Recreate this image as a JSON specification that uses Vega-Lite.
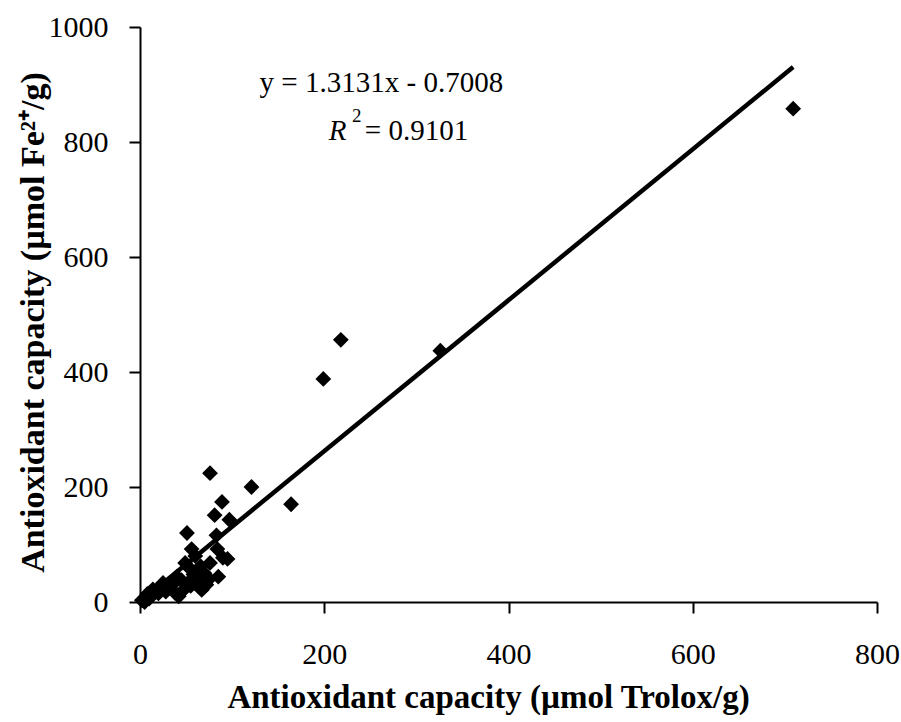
{
  "$schema": "https://vega.github.io/schema/vega-lite/v6.json",
  "width": 737,
  "height": 575,
  "autosize": {"type": "none"},
  "padding": {"left": 140, "top": 27, "right": 24, "bottom": 120},
  "background": "white",
  "config": {
    "view": {"stroke": null},
    "axis": {
      "grid": false,
      "domainColor": "black",
      "domainWidth": 2,
      "tickColor": "black",
      "tickWidth": 2,
      "tickSize": 11,
      "labelFont": "Liberation Serif",
      "labelFontSize": 30,
      "labelColor": "black",
      "labelFlush": false,
      "labelOverlap": false,
      "titleFont": "Liberation Serif",
      "titleFontWeight": "bold",
      "titleColor": "black"
    }
  },
  "layer": [
    {
      "data": {
        "values": [
          {"trolox": 709, "fe": 858},
          {"trolox": 326, "fe": 437},
          {"trolox": 218, "fe": 456},
          {"trolox": 199, "fe": 388},
          {"trolox": 164, "fe": 170},
          {"trolox": 121, "fe": 200},
          {"trolox": 76, "fe": 224},
          {"trolox": 89, "fe": 174},
          {"trolox": 81, "fe": 151},
          {"trolox": 97, "fe": 143},
          {"trolox": 51, "fe": 120},
          {"trolox": 83, "fe": 116},
          {"trolox": 56, "fe": 92},
          {"trolox": 84, "fe": 92},
          {"trolox": 90, "fe": 77},
          {"trolox": 76, "fe": 68},
          {"trolox": 49, "fe": 68},
          {"trolox": 62, "fe": 56},
          {"trolox": 40, "fe": 44},
          {"trolox": 85, "fe": 44},
          {"trolox": 52, "fe": 33},
          {"trolox": 67, "fe": 21},
          {"trolox": 38, "fe": 16},
          {"trolox": 25, "fe": 33},
          {"trolox": 18, "fe": 21},
          {"trolox": 9, "fe": 9},
          {"trolox": 2, "fe": 3},
          {"trolox": 60, "fe": 80},
          {"trolox": 66, "fe": 62},
          {"trolox": 70, "fe": 50},
          {"trolox": 58, "fe": 48},
          {"trolox": 45, "fe": 38},
          {"trolox": 55, "fe": 28},
          {"trolox": 62, "fe": 38},
          {"trolox": 72, "fe": 30},
          {"trolox": 48, "fe": 22},
          {"trolox": 30, "fe": 28},
          {"trolox": 22, "fe": 25},
          {"trolox": 15, "fe": 18},
          {"trolox": 12, "fe": 12},
          {"trolox": 10, "fe": 6},
          {"trolox": 6, "fe": 4},
          {"trolox": 14, "fe": 22},
          {"trolox": 20, "fe": 15},
          {"trolox": 35, "fe": 30},
          {"trolox": 42, "fe": 10},
          {"trolox": 28, "fe": 18},
          {"trolox": 5, "fe": 0},
          {"trolox": 8, "fe": 14},
          {"trolox": 65, "fe": 25},
          {"trolox": 75, "fe": 40},
          {"trolox": 95, "fe": 75},
          {"trolox": 53, "fe": 60}
        ]
      },
      "mark": {"type": "point", "shape": "diamond", "filled": true, "color": "black", "size": 250, "opacity": 1},
      "encoding": {
        "x": {
          "field": "trolox",
          "type": "quantitative",
          "scale": {"domain": [0, 800], "nice": false},
          "axis": {
            "title": "Antioxidant capacity (µmol Trolox/g)",
            "titleFontSize": 33,
            "values": [0, 200, 400, 600, 800],
            "format": "d",
            "labelPadding": 26,
            "titleX": 348,
            "titleY": 105,
            "titleBaseline": "alphabetic"
          }
        },
        "y": {
          "field": "fe",
          "type": "quantitative",
          "scale": {"domain": [0, 1000], "nice": false},
          "axis": {
            "title": "Antioxidant capacity (µmol Fe²⁺/g)",
            "titleFontSize": 34,
            "values": [0, 200, 400, 600, 800, 1000],
            "format": "d",
            "labelPadding": 21,
            "titleX": -97,
            "titleY": 295,
            "titleBaseline": "alphabetic"
          }
        }
      }
    },
    {
      "data": {"values": [{"trolox": 0, "fe": 0}, {"trolox": 709, "fe": 930.3}]},
      "mark": {"type": "line", "color": "black", "strokeWidth": 4.5},
      "encoding": {
        "x": {"field": "trolox", "type": "quantitative"},
        "y": {"field": "fe", "type": "quantitative"}
      }
    },
    {
      "data": {"values": [{"trolox": 262, "fe": 887, "label": "y = 1.3131x - 0.7008"}]},
      "mark": {"type": "text", "font": "Liberation Serif", "fontSize": 29, "align": "center", "baseline": "alphabetic", "color": "black"},
      "encoding": {
        "x": {"field": "trolox", "type": "quantitative"},
        "y": {"field": "fe", "type": "quantitative"},
        "text": {"field": "label"}
      }
    },
    {
      "data": {"values": [{"trolox": 205, "fe": 803, "label": "R"}]},
      "mark": {"type": "text", "font": "Liberation Serif", "fontSize": 29, "fontStyle": "italic", "align": "left", "baseline": "alphabetic", "color": "black"},
      "encoding": {
        "x": {"field": "trolox", "type": "quantitative"},
        "y": {"field": "fe", "type": "quantitative"},
        "text": {"field": "label"}
      }
    },
    {
      "data": {"values": [{"trolox": 230, "fe": 835, "label": "2"}]},
      "mark": {"type": "text", "font": "Liberation Serif", "fontSize": 19, "align": "left", "baseline": "alphabetic", "color": "black"},
      "encoding": {
        "x": {"field": "trolox", "type": "quantitative"},
        "y": {"field": "fe", "type": "quantitative"},
        "text": {"field": "label"}
      }
    },
    {
      "data": {"values": [{"trolox": 244, "fe": 803, "label": "= 0.9101"}]},
      "mark": {"type": "text", "font": "Liberation Serif", "fontSize": 29, "align": "left", "baseline": "alphabetic", "color": "black"},
      "encoding": {
        "x": {"field": "trolox", "type": "quantitative"},
        "y": {"field": "fe", "type": "quantitative"},
        "text": {"field": "label"}
      }
    }
  ]
}
